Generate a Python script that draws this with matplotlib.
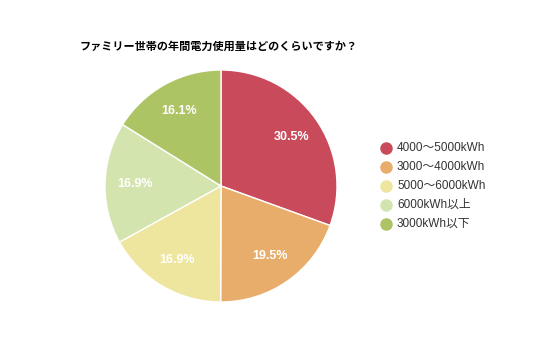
import matplotlib
matplotlib.use("Agg")
import matplotlib.pyplot as plt
from matplotlib.lines import Line2D
import numpy as np

plt.rcParams['font.family'] = ['Liberation Sans', 'Noto Sans CJK JP', 'DejaVu Sans']

# data
labels = ["4000～5000kWh", "3000～4000kWh", "5000～6000kWh", "6000kWh以上", "3000kWh以下"]
values = [30.5, 19.5, 16.9, 16.9, 16.1]
colors = ["#C94B5B", "#E8AD6A", "#EEE69E", "#D4E4AE", "#ADC464"]

W, H = 536, 357
fig = plt.figure(figsize=(W / 100, H / 100), dpi=100)

# pie: center (221,186), radius 116 px
cx, cy, r = 221, 186, 116
ax = fig.add_axes([(cx - r) / W, (H - cy - r) / H, 2 * r / W, 2 * r / H])
wedges, texts = ax.pie(values, colors=colors, startangle=90, counterclock=False,
                       wedgeprops=dict(edgecolor="white", linewidth=1), radius=1)
ax.set_xlim(-1, 1)
ax.set_ylim(-1, 1)
ax.set_aspect("equal")

for w, v in zip(wedges, values):
    mid = np.deg2rad((w.theta1 + w.theta2) / 2)
    ax.text(0.74 * np.cos(mid), 0.74 * np.sin(mid), "%.1f%%" % v,
            ha="center", va="center", color="white", fontsize=9, fontweight="bold")

fig.text(80 / W, 1 - 46 / H, "ファミリー世帯の年間電力使用量はどのくらいですか？",
         fontsize=8, fontweight="bold", va="center", ha="left",
         family=['Noto Sans CJK JP', 'DejaVu Sans'])

# legend
for i, (lab, c) in enumerate(zip(labels, colors)):
    y = 1 - (148 + 19 * i) / H
    fig.add_artist(Line2D([386 / W], [y], marker="o", markersize=8, color=c,
                          linestyle="none", transform=fig.transFigure))
    fig.text(397 / W, y, lab, fontsize=8.5, va="center", ha="left", color="#333333")

fig.savefig("out.png", dpi=100)
